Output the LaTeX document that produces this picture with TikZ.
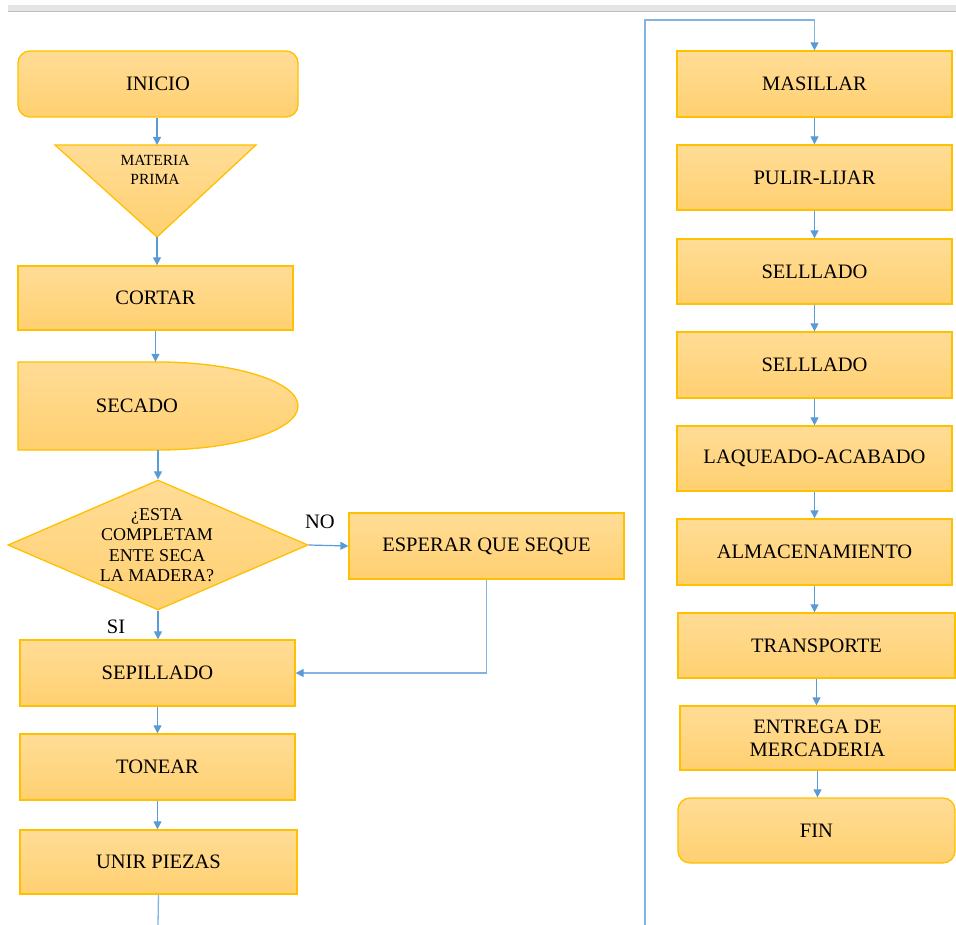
\documentclass[tikz,border=0pt]{standalone}
\usepackage{fontspec}
\setmainfont{Liberation Serif}
\usetikzlibrary{arrows.meta,shapes.geometric}
\definecolor{boxline}{RGB}{255,192,0}
\definecolor{boxtop}{RGB}{255,220,150}
\definecolor{boxbot}{RGB}{255,208,112}
\definecolor{arrowblue}{RGB}{91,155,213}
\definecolor{lineblue}{RGB}{130,180,226}
\tikzset{
  flowbox/.style={draw=boxline, line width=1.3pt, top color=boxtop, bottom color=boxbot,
    inner sep=0pt, font=\fontsize{20.5}{23}\selectfont, align=center},
  roundbox/.style={flowbox, rounded corners=12pt},
  conn/.style={draw=arrowblue, line width=1.2pt, -{Triangle[length=8pt,width=8pt]}},
  longconn/.style={draw=lineblue, line width=1.3pt},
  longarrow/.style={longconn, -{Triangle[length=8pt,width=8pt,color=arrowblue]}},
  lbl/.style={inner sep=0pt, font=\fontsize{20.5}{23}\selectfont}
}
\begin{document}
\begin{tikzpicture}[x=1pt,y=-1pt]
\useasboundingbox (0,0) rectangle (956,925);
% top bar
\fill[black!10] (8,5) rectangle (956,11);
\draw[black!25, line width=1pt] (8,11.5) -- (956,11.5);

% left column
\node[roundbox, minimum width=280pt, minimum height=66pt] (ini) at (158,84) {INICIO};

\shade[top color=boxtop, bottom color=boxbot, draw=boxline, line width=1.3pt]
  (55,145) -- (256,145) -- (157,237) -- cycle;
\coordinate (mpt) at (157,145);
\coordinate (mpb) at (157,237);
\node[inner sep=0pt, align=center, font=\fontsize{15.5}{19}\selectfont] (mptext) at (155,170) {MATERIA\\PRIMA};

\node[flowbox, minimum width=275pt, minimum height=64pt] (cor) at (155.5,298) {CORTAR};

\shade[top color=boxtop, bottom color=boxbot, draw=boxline, line width=1.3pt]
  (18,450) -- (18,362) -- (158,362) arc[start angle=-90, end angle=90, x radius=140, y radius=44] -- cycle;
\node[inner sep=0pt, minimum width=280pt, minimum height=88pt] (sec) at (158,406) {};
\node[lbl] (sectext) at (137,406) {SECADO};

\node[diamond, draw=boxline, line width=1.3pt, top color=boxtop, bottom color=boxbot,
  minimum width=300pt, minimum height=130pt, inner sep=0pt] (dec) at (158,545) {};
\node[inner sep=0pt, align=center, font=\fontsize{18}{20.5}\selectfont] (dectext) at (157,545)
  {¿ESTA\\COMPLETAM\\ENTE SECA\\LA MADERA?};

\node[flowbox, minimum width=275pt, minimum height=66pt] (esp) at (486.5,546) {ESPERAR QUE SEQUE};
\node[flowbox, minimum width=275pt, minimum height=66pt] (sep) at (157.5,673) {SEPILLADO};
\node[flowbox, minimum width=275pt, minimum height=66pt] (ton) at (157.5,767) {TONEAR};
\node[flowbox, minimum width=277pt, minimum height=64pt] (uni) at (158.5,862) {UNIR PIEZAS};

\node[lbl] (no) at (320,522) {NO};
\node[lbl] (si) at (116,627) {SI};

% right column
\node[flowbox, minimum width=275pt, minimum height=66pt] (mas) at (814.5,84) {MASILLAR};
\node[flowbox, minimum width=275pt, minimum height=65pt] (pul) at (814.5,177.5) {PULIR-LIJAR};
\node[flowbox, minimum width=275pt, minimum height=65pt] (se1) at (814.5,271.5) {SELLLADO};
\node[flowbox, minimum width=275pt, minimum height=66pt] (se2) at (814.5,365) {SELLLADO};
\node[flowbox, minimum width=275pt, minimum height=65pt] (laq) at (814.5,458.5) {LAQUEADO-ACABADO};
\node[flowbox, minimum width=275pt, minimum height=66pt] (alm) at (814.5,552) {ALMACENAMIENTO};
\node[flowbox, minimum width=277pt, minimum height=65pt] (tra) at (816.5,645.5) {TRANSPORTE};
\node[flowbox, minimum width=275pt, minimum height=64pt] (ent) at (817.5,738) {ENTREGA DE\\MERCADERIA};
\node[roundbox, minimum width=277pt, minimum height=65pt] (fin) at (816.5,830.5) {FIN};

% connectors left
\draw[conn] (ini.south -| mpt) -- (mpt);
\draw[conn] (mpb) -- (mpb |- cor.north);
\draw[conn] (cor.south) -- (cor.south |- sec.north);
\draw[conn] (sec.south) -- (sec.south |- dec.north);
\draw[conn] (dec.south) -- (dec.south |- sep.north);
\draw[conn] (dec.east) -- (esp.west);
\draw[longarrow] (esp.south) |- (sep.east);
\draw[conn] (sep.south) -- (sep.south |- ton.north);
\draw[conn] (ton.south) -- (ton.south |- uni.north);
\coordinate (leftend) at (158,925);
\draw[longconn] (uni.south) -- (leftend);

% page continuation
\coordinate (rbot) at (645,925);
\coordinate (rtop) at (645,20);
\draw[longarrow] (rbot) -- (rtop) -| (mas.north);

% connectors right
\draw[conn] (mas.south) -- (mas.south |- pul.north);
\draw[conn] (pul.south) -- (pul.south |- se1.north);
\draw[conn] (se1.south) -- (se1.south |- se2.north);
\draw[conn] (se2.south) -- (se2.south |- laq.north);
\draw[conn] (laq.south) -- (laq.south |- alm.north);
\draw[conn] (alm.south) -- (alm.south |- tra.north);
\draw[conn] (tra.south) -- (tra.south |- ent.north);
\draw[conn] (ent.south) -- (ent.south |- fin.north);
\end{tikzpicture}
\end{document}
